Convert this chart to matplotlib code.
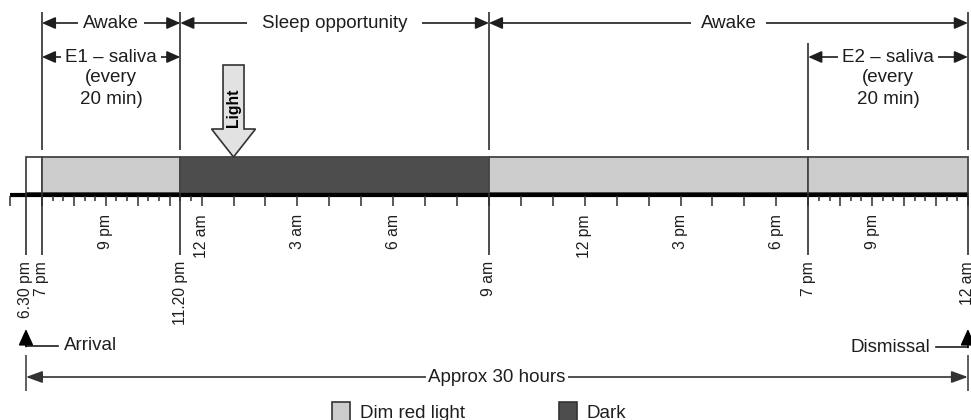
import matplotlib
matplotlib.use('Agg')
import matplotlib.pyplot as plt
from matplotlib.patches import Rectangle, Polygon

plt.rcParams['font.family'] = ['Liberation Sans', 'DejaVu Sans']

# ---------------- data (clock hours, 18 = 6 pm day 1, 48 = midnight day 2) -------------
axis_start, axis_end = 18, 48
seg_start = [18.5, 19, 23 + 1 / 3, 33, 43]
seg_end = [19, 23 + 1 / 3, 33, 43, 48]
seg_kind = ['none', 'dim', 'dark', 'dim', 'dim']
event_times = [18.5, 19, 23 + 1 / 3, 33, 43, 48]
event_labels = ['6.30 pm', '7 pm', '11.20 pm', '9 am', '7 pm', '12 am']
hour_label_times = [21, 24, 27, 30, 36, 39, 42, 45]
hour_labels = ['9 pm', '12 am', '3 am', '6 am', '12 pm', '3 pm', '6 pm', '9 pm']
phase_start = [19, 23 + 1 / 3, 33]
phase_end = [23 + 1 / 3, 33, 48]
phase_labels = ['Awake', 'Sleep opportunity', 'Awake']
saliva_start = [19, 43]
saliva_end = [23 + 1 / 3, 48]
saliva_labels = ['E1 – saliva', 'E2 – saliva']
sample_interval_min = 20
light_time = 25
arrival_time, dismissal_time = 18.5, 48
legend_labels = ['Dim red light', 'Dark']

# ---------------- style ----------------
DIM = '#cccccc'
DARK = '#4d4d4d'
INK = '#1e1e1e'
LINE = '#2e2e2e'
BIG = 13.5
SMALL = 11.3
PX_PER_H = 31.93


def px2h(px):
    return 18 + (px - 10) / PX_PER_H


def dpx(px):
    return px / PX_PER_H


fig = plt.figure(figsize=(9.71, 4.2), dpi=100)
ax = fig.add_axes([0, 0, 1, 1])
ax.set_xlim(px2h(0), px2h(971))
ax.set_ylim(420, 0)
ax.axis('off')

# ---- bar segments ----
colors = {'none': 'white', 'dim': DIM, 'dark': DARK}
for s, e, k in zip(seg_start, seg_end, seg_kind):
    ax.add_patch(Rectangle((s, 157), e - s, 36, fc=colors[k], ec='#444444', lw=1.3, zorder=2))

# ---- time axis ----
ax.plot([axis_start, axis_end], [194.6, 194.6], color='black', lw=3.0,
        solid_capstyle='butt', zorder=3)
major = list(range(axis_start, axis_end + 1))
ax.vlines(major, 196, 206, color=LINE, lw=1.1, zorder=3)
step = sample_interval_min / 60
minor = []
for s, e in zip(saliva_start, saliva_end):
    start = int(s)
    n = int(round((int(round(e + 0.67)) - start) / step))
    for i in range(n + 1):
        t = start + i * step
        if t <= axis_end + 1e-9 and abs(t - round(t)) > 1e-6:
            minor.append(t)
ax.vlines(minor, 196, 201, color=LINE, lw=1.1, zorder=3)

# hour labels
for t, lab in zip(hour_label_times, hour_labels):
    ax.text(t, 214, lab, rotation=90, ha='center', va='top', fontsize=SMALL, color=INK)

# event lines below & labels
ax.vlines(event_times, 193, 255, color=LINE, lw=1.2, zorder=3)
for t, lab in zip(event_times, event_labels):
    ax.text(t, 261, lab, rotation=90, ha='center', va='top', fontsize=SMALL, color=INK)

# ---- top annotations ----
ax.vlines([19, 23 + 1 / 3, 33, 48], 12, 150, color=LINE, lw=1.2)
ax.vlines([43], 43, 150, color=LINE, lw=1.2)

ARW = dict(arrowstyle='<|-|>,head_length=0.45,head_width=0.2', color=INK, lw=1.2,
           shrinkA=0, shrinkB=0, mutation_scale=18)
phase_pads = [0.28, 0.8, 0.5]
for s, e, lab, pad in zip(phase_start, phase_end, phase_labels, phase_pads):
    ax.annotate('', xy=(e, 23), xytext=(s, 23), arrowprops=ARW, zorder=2)
    ax.text((s + e) / 2, 23, lab, ha='center', va='center', fontsize=BIG, color=INK, zorder=5,
            bbox=dict(boxstyle=f'square,pad={pad}', fc='white', ec='none'))

for s, e, lab in zip(saliva_start, saliva_end, saliva_labels):
    ax.annotate('', xy=(e, 57), xytext=(s, 57), arrowprops=ARW, zorder=2)
    ax.text((s + e) / 2, 57, lab, ha='center', va='center', fontsize=BIG, color=INK, zorder=5,
            bbox=dict(boxstyle='square,pad=0.2', fc='white', ec='none'))
    ax.text((s + e) / 2, 78, '(every', ha='center', va='center', fontsize=BIG, color=INK)
    ax.text((s + e) / 2, 99, f'{sample_interval_min} min)', ha='center', va='center',
            fontsize=BIG, color=INK)

# ---- light pulse arrow ----
bw, hw = dpx(10.5), dpx(22)
pts = [(light_time - bw, 65), (light_time + bw, 65), (light_time + bw, 129),
       (light_time + hw, 129), (light_time, 157), (light_time - hw, 129),
       (light_time - bw, 129)]
ax.add_patch(Polygon(pts, closed=True, fc='#e2e2e2', ec='#333333', lw=1.2, zorder=4))
ax.text(light_time, 108, 'Light', rotation=90, ha='center', va='center', fontsize=SMALL,
        fontweight='bold', color='black', zorder=5)

# ---- arrival / dismissal ----
ARW1 = dict(arrowstyle='-|>,head_length=0.55,head_width=0.25', color='black', lw=1.2,
            shrinkA=0, shrinkB=0, mutation_scale=18)
ax.plot([px2h(58), arrival_time], [346, 346], color=INK, lw=1.2)
ax.annotate('', xy=(arrival_time, 329), xytext=(arrival_time, 346.5), arrowprops=ARW1)
ax.text(px2h(64), 346, 'Arrival', ha='left', va='center', fontsize=BIG, color=INK)

ax.plot([px2h(936), dismissal_time], [347, 347], color=INK, lw=1.2)
ax.annotate('', xy=(dismissal_time, 329), xytext=(dismissal_time, 347.5), arrowprops=ARW1)
ax.text(px2h(930), 347, 'Dismissal', ha='right', va='center', fontsize=BIG, color=INK)

# ---- approx 30 hours ----
ax.vlines([arrival_time, dismissal_time], 355, 391, color='#444444', lw=1.2)
ARW2 = dict(arrowstyle='<|-|>,head_length=0.55,head_width=0.2', color='#333333', lw=1.2,
            shrinkA=0, shrinkB=0, mutation_scale=18)
ax.annotate('', xy=(dismissal_time, 377), xytext=(arrival_time, 377), arrowprops=ARW2)
ax.text((arrival_time + dismissal_time) / 2, 377,
        f'Approx {round(dismissal_time - arrival_time)} hours', ha='center', va='center',
        fontsize=BIG, color=INK, zorder=5,
        bbox=dict(boxstyle='square,pad=0.12', fc='white', ec='none'))

# ---- legend ----
for x0, fc, lab in zip([332, 559], [DIM, DARK], legend_labels):
    ax.add_patch(Rectangle((px2h(x0), 402), dpx(18), 19, fc=fc, ec='#333333', lw=1.2,
                           clip_on=False))
    ax.text(px2h(x0 + 28), 418, lab, ha='left', va='baseline', fontsize=BIG, color=INK)

fig.savefig('out.png', dpi=100)
